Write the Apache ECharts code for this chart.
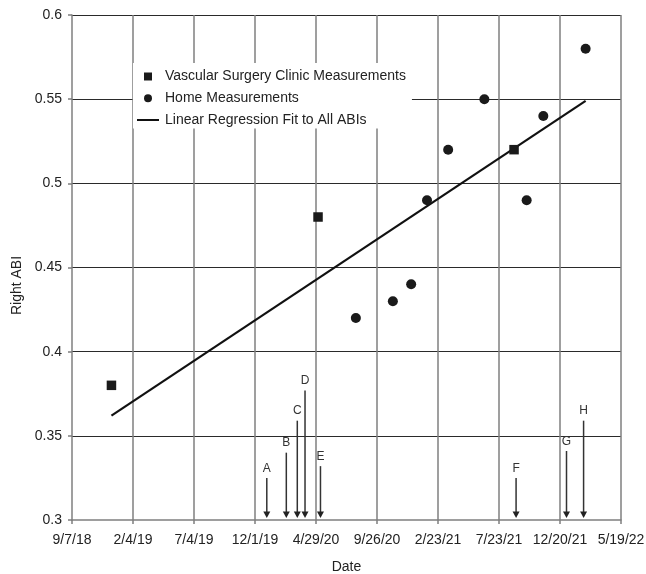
<!DOCTYPE html>
<html><head><meta charset="utf-8">
<script src="https://cdn.jsdelivr.net/npm/echarts@6/dist/echarts.min.js"></script>
<style>html,body{margin:0;padding:0;background:#fff}#c{width:646px;height:574px}</style>
</head><body><div id="c"></div>
<script>
// ---- data ----
const xTickLabels = ['9/7/18','2/4/19','7/4/19','12/1/19','4/29/20','9/26/20','2/23/21','7/23/21','12/20/21','5/19/22'];
const yTickValues = [0.3,0.35,0.4,0.45,0.5,0.55,0.6];
const clinicDates = ['2018-12-13','2020-05-04','2021-08-29'];
const clinicABI = [0.38,0.48,0.52];
const homeDates = ['2020-08-05','2020-11-04','2020-12-19','2021-01-27','2021-03-20','2021-06-17','2021-09-29','2021-11-09','2022-02-21'];
const homeABI = [0.42,0.43,0.44,0.49,0.52,0.55,0.49,0.54,0.58];
const fitDates = ['2018-12-13','2022-02-21'];
const fitABI = [0.362,0.549];
const eventLabels = ['A','B','C','D','E','F','G','H'];
const eventDates = ['2019-12-30','2020-02-16','2020-03-14','2020-04-02','2020-05-10','2021-09-03','2022-01-05','2022-02-16'];
const eventArrowTop = [0.325,0.34,0.359,0.377,0.332,0.325,0.341,0.359];

// ---- helpers ----
const EPOCH = Date.UTC(1899,11,30);
function serial(s){const p=s.split('-').map(Number);return Math.round((Date.UTC(p[0],p[1]-1,p[2])-EPOCH)/86400000);}
const xInterval = 150;
const xMin = serial('2018-09-07');
const xMax = xMin + xInterval*(xTickLabels.length-1);
const yMin = yTickValues[0], yMax = yTickValues[yTickValues.length-1];
const FONT = 'Liberation Sans';

const pair = (ds, vs) => ds.map((d,i)=>[serial(d), vs[i]]);

const chart = echarts.init(document.getElementById('c'));
chart.setOption({
  animation:false,
  backgroundColor:'#fff',
  grid:{left:72,right:25,top:15,bottom:54,containLabel:false,outerBoundsMode:'none'},
  xAxis:{
    type:'value', min:xMin, max:xMax, interval:xInterval,
    name:'Date', nameLocation:'middle', nameGap:40,
    nameTextStyle:{fontFamily:FONT,fontSize:14,color:'#222'},
    axisLine:{show:true,lineStyle:{color:'#7f7f7f',width:1.5}},
    axisTick:{show:true,length:4,lineStyle:{color:'#7f7f7f',width:1.5}},
    axisLabel:{fontFamily:FONT,fontSize:14,color:'#222',margin:13,
      formatter:function(v){return xTickLabels[Math.round((v-xMin)/xInterval)]||'';}},
    splitLine:{show:true,showMinLine:false,lineStyle:{color:'#7f7f7f',width:1.5}}
  },
  yAxis:{
    type:'value', min:yMin, max:yMax, interval:0.05,
    name:'Right ABI', nameLocation:'middle', nameGap:47, nameRotate:90,
    nameTextStyle:{fontFamily:FONT,fontSize:14,color:'#222',padding:[0,36,0,0]},
    axisLine:{show:true,lineStyle:{color:'#7f7f7f',width:1.5}},
    axisTick:{show:true,length:4,lineStyle:{color:'#7f7f7f',width:1.5}},
    axisLabel:{fontFamily:FONT,fontSize:14,color:'#222',margin:10,
      formatter:function(v){return String(Math.round(v*100)/100);}},
    splitLine:{show:true,showMinLine:false,lineStyle:{color:'#2a2a2a',width:1.2}}
  },
  legend:{
    orient:'vertical', left:133, top:63, padding:[6,6,1,4], backgroundColor:'#fff',
    itemWidth:22, itemHeight:8, itemGap:6.75, symbolKeepAspect:true,
    textStyle:{fontFamily:FONT,fontSize:14,color:'#222',lineHeight:15,padding:[0,0,0,1]},
    data:[
      {name:'Vascular Surgery Clinic Measurements', icon:'path://M0,0L10,0L10,10L0,10Z'},
      {name:'Home Measurements', icon:'circle'},
      {name:'Linear Regression Fit to All ABIs', icon:'path://M0,0L22,0L22,2L0,2Z'}
    ]
  },
  series:[
    {name:'Linear Regression Fit to All ABIs', type:'line', data:pair(fitDates,fitABI),
      symbol:'none', showSymbol:false, lineStyle:{color:'#111',width:2.2}, itemStyle:{color:'#111'}, z:2},
    {name:'Vascular Surgery Clinic Measurements', type:'scatter', data:pair(clinicDates,clinicABI),
      symbol:'rect', symbolSize:9.5, itemStyle:{color:'#1a1a1a',opacity:1}, z:3},
    {name:'Home Measurements', type:'scatter', data:pair(homeDates,homeABI),
      symbol:'circle', symbolSize:10, itemStyle:{color:'#1a1a1a',opacity:1}, z:3},
    {name:'events', type:'custom', data:pair(eventDates,eventArrowTop), z:4,
      renderItem:function(params, api){
        const x = api.value(0), top = api.value(1);
        const pT = api.coord([x, top]);
        const pB = api.coord([x, yMin]);
        const tipY = pB[1]-2, hH = 6.5, hW = 7;
        return {type:'group', children:[
          {type:'line', shape:{x1:pT[0],y1:pT[1],x2:pT[0],y2:tipY-hH+1}, style:{stroke:'#333',lineWidth:1.5}},
          {type:'polygon', shape:{points:[[pT[0]-hW/2,tipY-hH],[pT[0]+hW/2,tipY-hH],[pT[0],tipY]]}, style:{fill:'#222'}},
          {type:'text', x:pT[0], y:pT[1]-9.5, style:{text:eventLabels[params.dataIndex], fill:'#333',
            font:'12px "Liberation Sans"', align:'center', verticalAlign:'middle'}}
        ]};
      }}
  ]
});
</script></body></html>
